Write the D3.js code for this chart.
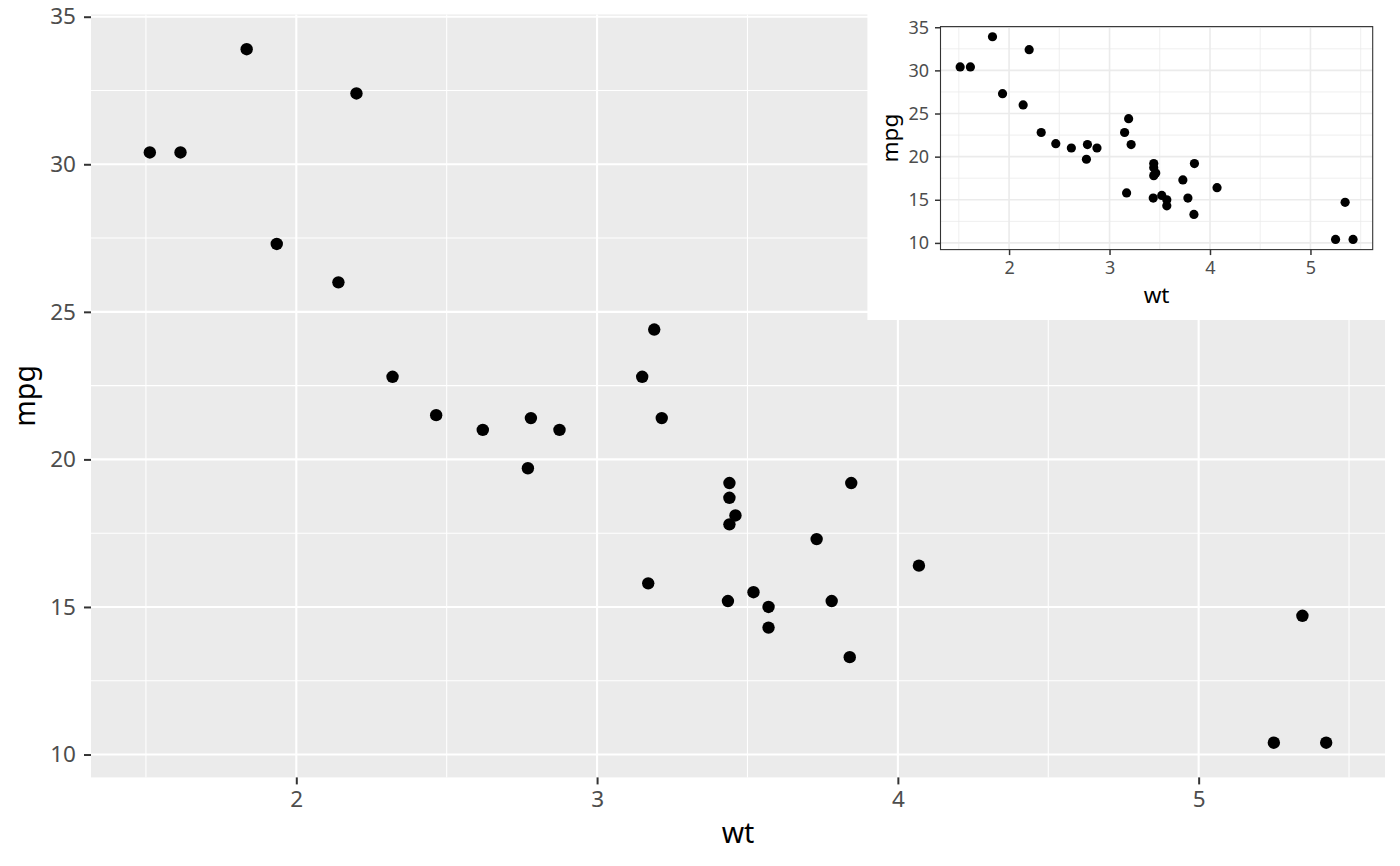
<!DOCTYPE html>
<html>
<head>
<meta charset="utf-8">
<script src="https://cdn.jsdelivr.net/npm/d3@7"></script>
<style>
  body { margin: 0; background: #fff; }
  text { font-family: "Noto Sans", sans-serif; }
</style>
</head>
<body>
<svg id="svg1" width="1400" height="866"></svg>
<script>
// mtcars: wt vs mpg
var wt  = [2.620, 2.875, 2.320, 3.215, 3.440, 3.460, 3.570, 3.190, 3.150, 3.440, 3.440,
           4.070, 3.730, 3.780, 5.250, 5.424, 5.345, 2.200, 1.615, 1.835, 2.465, 3.520,
           3.435, 3.840, 3.845, 1.935, 2.140, 1.513, 3.170, 2.770, 3.570, 2.780];
var mpg = [21.0, 21.0, 22.8, 21.4, 18.7, 18.1, 14.3, 24.4, 22.8, 19.2, 17.8,
           16.4, 17.3, 15.2, 10.4, 10.4, 14.7, 32.4, 30.4, 33.9, 21.5, 15.5,
           15.2, 13.3, 19.2, 27.3, 26.0, 30.4, 15.8, 19.7, 15.0, 21.4];
var xTicks = [2, 3, 4, 5];
var xMinor = [1.5, 2.5, 3.5, 4.5, 5.5];
var yTicks = [10, 15, 20, 25, 30, 35];
var yMinor = [12.5, 17.5, 22.5, 27.5, 32.5];

var cars = wt.map(function(w, i) { return {wt: w, mpg: mpg[i]}; });

var svg = d3.select('#svg1');

// ggplot style 5% expansion
function expand(ext) {
    var pad = (ext[1] - ext[0]) * 0.05;
    return [ext[0] - pad, ext[1] + pad];
}
var xDomain = expand(d3.extent(wt));
var yDomain = expand(d3.extent(mpg));

function drawPlot(g, o) {
    var x = d3.scaleLinear().domain(xDomain).range([o.l, o.r]);
    var y = d3.scaleLinear().domain(yDomain).range([o.b, o.t]);

    g.append('rect')
        .attr('x', o.l).attr('y', o.t)
        .attr('width', o.r - o.l).attr('height', o.b - o.t)
        .attr('fill', o.panelFill);

    var grid = g.append('g');
    grid.selectAll('.ymin').data(yMinor).enter().append('line')
        .attr('x1', o.l).attr('x2', o.r)
        .attr('y1', function(d) { return y(d); }).attr('y2', function(d) { return y(d); })
        .attr('stroke', o.gridColor).attr('stroke-width', o.minorW);
    grid.selectAll('.xmin').data(xMinor.filter(function(d) { return d > xDomain[0] && d < xDomain[1]; }))
        .enter().append('line')
        .attr('y1', o.t).attr('y2', o.b)
        .attr('x1', function(d) { return x(d); }).attr('x2', function(d) { return x(d); })
        .attr('stroke', o.gridColor).attr('stroke-width', o.minorW);
    grid.selectAll('.ymaj').data(yTicks).enter().append('line')
        .attr('x1', o.l).attr('x2', o.r)
        .attr('y1', function(d) { return y(d); }).attr('y2', function(d) { return y(d); })
        .attr('stroke', o.gridColor).attr('stroke-width', o.majorW);
    grid.selectAll('.xmaj').data(xTicks).enter().append('line')
        .attr('y1', o.t).attr('y2', o.b)
        .attr('x1', function(d) { return x(d); }).attr('x2', function(d) { return x(d); })
        .attr('stroke', o.gridColor).attr('stroke-width', o.majorW);

    g.selectAll('circle.pt').data(cars).enter().append('circle')
        .attr('class', 'pt')
        .attr('cx', function(d) { return x(d.wt); })
        .attr('cy', function(d) { return y(d.mpg); })
        .attr('r', o.r0)
        .attr('fill', '#000');

    if (o.border) {
        g.append('rect')
            .attr('x', o.l).attr('y', o.t)
            .attr('width', o.r - o.l).attr('height', o.b - o.t)
            .attr('fill', 'none').attr('stroke', '#333333').attr('stroke-width', 1.1);
    }

    var xAxis = g.append('g')
        .attr('transform', 'translate(0,' + o.b + ')')
        .call(d3.axisBottom(x).tickValues(xTicks).tickFormat(d3.format('d'))
            .tickSize(o.tickLen).tickSizeOuter(0).tickPadding(o.xPad));
    var yAxis = g.append('g')
        .attr('transform', 'translate(' + o.l + ',0)')
        .call(d3.axisLeft(y).tickValues(yTicks).tickFormat(d3.format('d'))
            .tickSize(o.tickLen).tickSizeOuter(0).tickPadding(o.yPad));
    [xAxis, yAxis].forEach(function(a) {
        a.select('.domain').remove();
        a.selectAll('line').attr('stroke', '#333333').attr('stroke-width', o.tickW);
        a.selectAll('text')
            .attr('fill', '#4D4D4D')
            .style('font-size', o.tickFont + 'px')
            .style('font-family', '"Noto Sans", sans-serif');
    });

    g.append('text')
        .attr('x', (o.l + o.r) / 2).attr('y', o.xTitleY)
        .attr('text-anchor', 'middle')
        .style('font-size', o.titleFont + 'px')
        .text('wt');
    g.append('text')
        .attr('transform', 'translate(' + o.yTitleX + ',' + (o.t + o.b) / 2 + ') rotate(-90)')
        .attr('text-anchor', 'middle')
        .style('font-size', o.titleFont + 'px')
        .text('mpg');
}

// main plot
drawPlot(svg.append('g').attr('class', 'main'), {
    l: 91, r: 1385, t: 14.5, b: 777.4,
    panelFill: '#EBEBEB', gridColor: '#FFFFFF', majorW: 2.1, minorW: 1.05,
    border: false, r0: 6.2,
    tickLen: 7, tickW: 2, xPad: 7, yPad: 8, tickFont: 22.5,
    titleFont: 28.5, xTitleY: 843, yTitleX: 35
});

// inset plot background
svg.append('rect')
    .attr('x', 867.4).attr('y', 0)
    .attr('width', 1385 - 867.4).attr('height', 320)
    .attr('fill', '#FFFFFF');

drawPlot(svg.append('g').attr('class', 'inset'), {
    l: 940.5, r: 1372.7, t: 26.6, b: 249.6,
    panelFill: '#FFFFFF', gridColor: '#EBEBEB', majorW: 1.6, minorW: 0.8,
    border: true, r0: 4.6,
    tickLen: 5.5, tickW: 1.5, xPad: 6, yPad: 6, tickFont: 18,
    titleFont: 22.5, xTitleY: 302.7, yTitleX: 898
});
</script>
</body>
</html>
